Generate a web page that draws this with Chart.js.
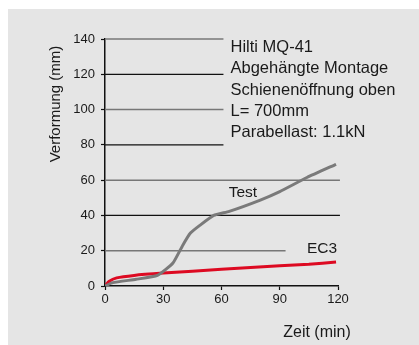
<!DOCTYPE html>
<html>
<head>
<meta charset="utf-8">
<script src="https://cdn.jsdelivr.net/npm/chart.js@4/dist/chart.umd.min.js"></script>
<style>
  html,body{margin:0;padding:0;background:#fff;}
  #bg{position:absolute;left:8px;top:9px;right:0;bottom:0;background:#e5e5e5;}
  #wrap{position:absolute;left:0;top:0;width:419px;height:345px;}
</style>
</head>
<body>
<div id="bg"></div>
<div id="wrap"><canvas id="graf"></canvas></div>
<script>
(function(){

// Test curve
const testX = [0, 4, 16, 27, 35, 40, 44, 49, 56, 64, 80, 90, 104, 119];
const testY = [0, 1.9, 3.8, 6, 13, 23, 30, 34.5, 40, 42.3, 48.7, 53.5, 61.5, 69];

// EC3 curve
const ec3X = [0, 2, 6, 15, 30, 60, 90, 105, 119];
const ec3Y = [0, 2.5, 4.6, 6, 7.3, 9.5, 11.5, 12.3, 13.6];

// horizontal reference lines (value, end on x axis)
const gridWerte = [140, 120, 100, 80, 60, 40, 20];
const gridEnde  = [61, 61, 61, 61, 121, 121, 93];

const infoText = ["Hilti MQ-41", "Abgehängte Montage", "Schienenöffnung oben", "L= 700mm", "Parabellast: 1.1kN"];

const FONT = "'Liberation Sans', Arial, Helvetica, sans-serif";
const TXT = "#1a1a1a";

function pts(xs, ys){ return xs.map((x,i)=>({x:x, y:ys[i]})); }

const datasets = [
  {label:"Test", data:pts(testX,testY), borderColor:"#7a7a7a", borderWidth:3, pointRadius:0, tension:0.15, borderJoinStyle:"round"},
  {label:"EC3", data:pts(ec3X,ec3Y), borderColor:"#dd0a22", borderWidth:3, pointRadius:0, tension:0.15, borderJoinStyle:"round"}
];
gridWerte.forEach((v,i)=>{
  datasets.push({
    label:"grid"+v,
    data:[{x:0,y:v},{x:gridEnde[i],y:v}],
    borderColor: i%2==0 ? "#777" : "#111",
    borderWidth: i%2==0 ? 1.5 : 1.2, pointRadius:0, clip:false
  });
});

const texte = {
  id:"texte",
  afterDatasetsDraw(chart){
    const c = chart.ctx, sx = chart.scales.x, sy = chart.scales.y;
    c.save();
    c.fillStyle = TXT;
    c.textBaseline = "middle";

    // info block
    c.font = "16.5px " + FONT;
    c.textAlign = "left";
    infoText.forEach((t,i)=>{
      c.fillText(t, 230.5, 47.7 + i*21.25);
    });

    // curve labels
    c.font = "15.5px " + FONT;
    c.textAlign = "center";
    c.fillText("Test", sx.getPixelForValue(71), sy.getPixelForValue(52.6));
    c.fillText("EC3", sx.getPixelForValue(111.8), sy.getPixelForValue(21));

    // axis titles
    c.font = "16px " + FONT;
    c.fillText("Zeit (min)", 317, 333);
    c.font = "15px " + FONT;
    c.translate(56, 104);
    c.rotate(-Math.PI/2);
    c.fillText("Verformung (mm)", 0, 0);
    c.restore();
  }
};

new Chart(document.getElementById("graf"), {
  type:"line",
  data:{datasets:datasets},
  options:{
    responsive:true,
    maintainAspectRatio:false,
    animation:false,
    layout:{padding:{left:0, top:39, right:81, bottom:0}},
    plugins:{legend:{display:false}, tooltip:{enabled:false}},
    scales:{
      x:{
        type:"linear", min:0, max:120,
        ticks:{stepSize:30, color:TXT, font:{family:FONT, size:13}, padding:2, maxRotation:0},
        grid:{drawOnChartArea:false, tickLength:4, tickColor:"#111", tickWidth:1.2},
        border:{color:"#111", width:1.5},
        afterFit(s){ s.height = 59; }
      },
      y:{
        min:0, max:140,
        ticks:{stepSize:20, color:TXT, font:{family:FONT, size:13}, padding:6},
        grid:{drawOnChartArea:false, tickLength:4, tickColor:"#111", tickWidth:1.2},
        border:{color:"#111", width:1.5},
        afterFit(s){ s.width = 105; }
      }
    }
  },
  plugins:[texte]
});

})();
</script>
</body>
</html>
